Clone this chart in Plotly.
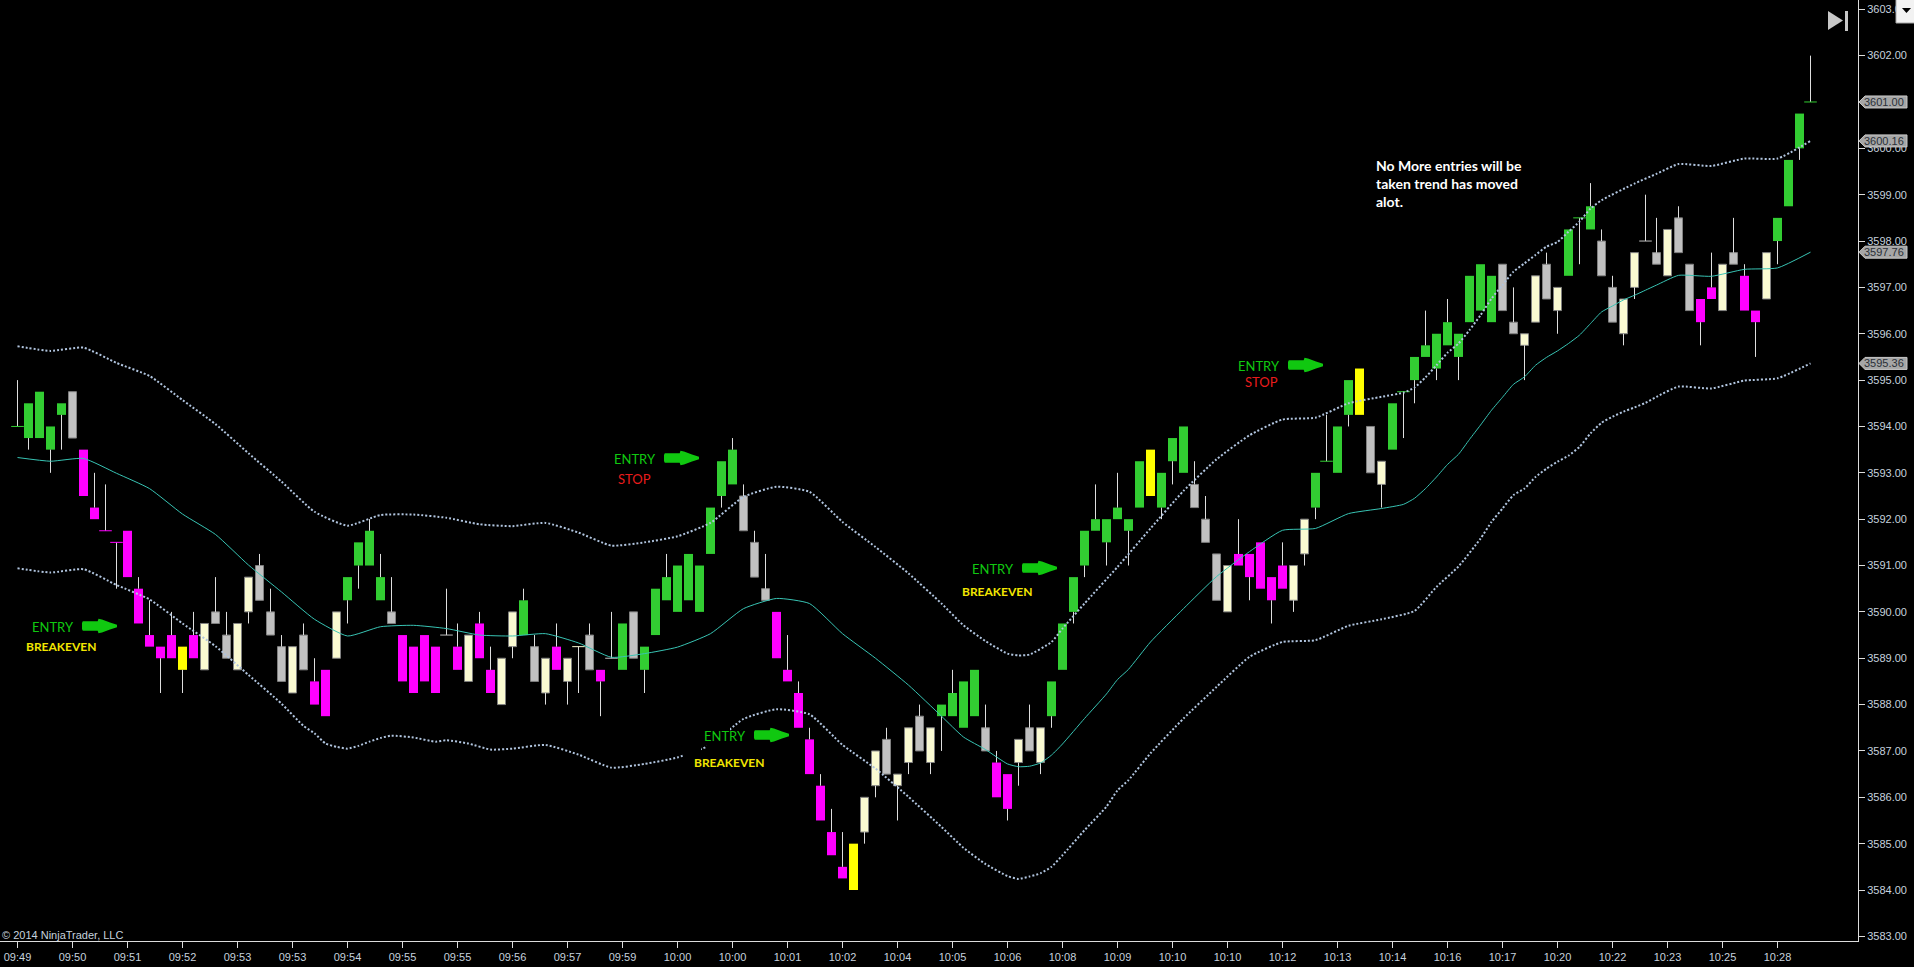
import plotly.graph_objects as go

# ES 1-range chart, bars left to right. Prices (0.25 tick).
bar_top = [
    3594, 3594.5, 3594.75, 3594, 3594.5, 3594.75, 3593.5, 3592.25, 3591.75, 3591.5,
    3591.75, 3590.5, 3589.5, 3589.25, 3589.5, 3589.25, 3589.5, 3589.75, 3590, 3589.5,
    3589.75, 3590.75, 3591, 3590, 3589.25, 3589.25, 3589.5, 3588.5, 3588.75, 3590,
    3590.75, 3591.5, 3591.75, 3590.75, 3590, 3589.5, 3589.25, 3589.5, 3589.25, 3589.5,
    3589.25, 3589.5, 3589.75, 3588.75, 3589, 3590, 3590.25, 3589.25, 3589, 3589.25,
    3589, 3589.25, 3589.5, 3588.75, 3589, 3589.75, 3590, 3589.25, 3590.5, 3590.75,
    3591, 3591.25, 3591, 3592.25, 3593.25, 3593.5, 3592.5, 3591.5, 3590.5, 3590,
    3588.75, 3588.25, 3587.25, 3586.25, 3585.25, 3584.5, 3585, 3586, 3587, 3587.25,
    3586.5, 3587.5, 3587.75, 3587.5, 3588, 3588.25, 3588.5, 3588.75, 3587.5, 3586.75,
    3586.5, 3587.25, 3587.5, 3587.5, 3588.5, 3589.75, 3590.75, 3591.75, 3592, 3592,
    3592.25, 3592, 3593.25, 3593.5, 3593, 3593.75, 3594, 3592.75, 3592, 3591.25,
    3591, 3591.25, 3591.25, 3591.5, 3590.75, 3591, 3591, 3592, 3593, 3593.25,
    3594, 3595, 3595.25, 3594, 3593.25, 3594.5, 3594.75, 3595.5, 3595.75, 3596,
    3596.25, 3596, 3597.25, 3597.5, 3597.25, 3597.5, 3596.25, 3596, 3597.25, 3597.5,
    3597, 3598.25, 3598.5, 3598.75, 3598, 3597, 3596.75, 3597.75, 3598, 3597.75,
    3598.25, 3598.5, 3597.5, 3596.75, 3597, 3597.5, 3597.75, 3597.25, 3596.5, 3597.75,
    3598.5, 3599.75, 3600.75, 3601,
]
bar_bottom = [
    3594, 3593.75, 3593.75, 3593.5, 3594.25, 3593.75, 3592.5, 3592, 3591.75, 3591.5,
    3590.75, 3589.75, 3589.25, 3589, 3589, 3588.75, 3589, 3588.75, 3589.75, 3589,
    3588.75, 3590, 3590.25, 3589.5, 3588.5, 3588.25, 3588.75, 3588, 3587.75, 3589,
    3590.25, 3591, 3591, 3590.25, 3589.75, 3588.5, 3588.25, 3588.5, 3588.25, 3589.5,
    3588.75, 3588.5, 3589, 3588.25, 3588, 3589.25, 3589.5, 3588.5, 3588.25, 3588.75,
    3588.5, 3589.25, 3588.75, 3588.5, 3589, 3588.75, 3589, 3588.75, 3589.5, 3590.25,
    3590, 3590.25, 3590, 3591.25, 3592.5, 3592.75, 3591.75, 3590.75, 3590.25, 3589,
    3588.5, 3587.5, 3586.5, 3585.5, 3584.75, 3584.25, 3584, 3585.25, 3586.25, 3586.5,
    3586.25, 3586.75, 3587, 3586.75, 3587.75, 3587.75, 3587.5, 3587.75, 3587, 3586,
    3585.75, 3586.75, 3587, 3586.75, 3587.75, 3588.75, 3590, 3591, 3591.75, 3591.5,
    3592, 3591.75, 3592.25, 3592.5, 3592.25, 3593.25, 3593, 3592.25, 3591.5, 3590.25,
    3590, 3591, 3590.75, 3590.5, 3590.25, 3590.5, 3590.25, 3591.25, 3592.25, 3593.25,
    3593, 3594.25, 3594.25, 3593, 3592.75, 3593.5, 3594.75, 3595, 3595.5, 3595.25,
    3595.75, 3595.5, 3596.25, 3596.5, 3596.25, 3596.5, 3596, 3595.75, 3596.25, 3596.75,
    3596.5, 3597.25, 3598.5, 3598.25, 3597.25, 3596.25, 3596, 3597, 3598, 3597.5,
    3597.25, 3597.75, 3596.5, 3596.25, 3596.75, 3596.5, 3597.5, 3596.5, 3596.25, 3596.75,
    3598, 3598.75, 3600, 3601,
]
wick_high = [
    3595, 3594.5, 3594.75, 3594, 3594.5, 3594.75, 3593.5, 3593, 3592.75, 3591.5,
    3591.75, 3590.75, 3590.25, 3589.25, 3590, 3589.25, 3590, 3589.75, 3590.75, 3590,
    3589.75, 3590.75, 3591.25, 3590.5, 3589.5, 3589.25, 3589.75, 3589, 3588.75, 3590,
    3590.75, 3591.5, 3592, 3591.25, 3590.75, 3589.5, 3589.25, 3589.5, 3589.25, 3590.5,
    3589.75, 3589.5, 3590, 3589.25, 3589, 3590, 3590.5, 3589.5, 3589, 3589.75,
    3589, 3589.25, 3589.75, 3588.75, 3590, 3589.75, 3590, 3589.25, 3590.5, 3591.25,
    3591, 3591.25, 3591, 3592.25, 3593.25, 3593.75, 3592.75, 3591.75, 3591.25, 3590,
    3589.5, 3588.5, 3587.5, 3586.5, 3585.75, 3585.25, 3585, 3586, 3587, 3587.5,
    3586.5, 3587.5, 3588, 3587.5, 3588, 3588.75, 3588.5, 3588.75, 3588, 3587,
    3586.5, 3587.25, 3588, 3587.5, 3588.5, 3589.75, 3590.75, 3591.75, 3592.75, 3592,
    3593, 3592, 3593.25, 3593.5, 3593, 3593.75, 3594, 3593.25, 3592.5, 3591.25,
    3591, 3592, 3591.25, 3591.5, 3590.75, 3591.5, 3591, 3592, 3593, 3594.25,
    3594, 3595, 3595.25, 3594, 3593.25, 3594.5, 3594.75, 3595.5, 3596.5, 3596,
    3596.75, 3596, 3597.25, 3597.5, 3597.25, 3597.5, 3597, 3596, 3597.25, 3597.75,
    3597, 3598.25, 3598.5, 3599.25, 3598.25, 3597.25, 3596.75, 3597.75, 3599, 3598.5,
    3598.25, 3598.75, 3597.5, 3596.75, 3597.75, 3597.5, 3598.5, 3597.5, 3596.5, 3597.75,
    3598.5, 3599.75, 3600.75, 3602,
]
wick_low = [
    3594, 3593.5, 3593.75, 3593, 3593.5, 3593.75, 3592.5, 3592, 3591.75, 3590.5,
    3590.75, 3589.75, 3589.25, 3588.25, 3589, 3588.25, 3589, 3588.75, 3589.75, 3589,
    3588.75, 3589.75, 3590.25, 3589.5, 3588.5, 3588.25, 3588.75, 3588, 3587.75, 3589,
    3589.75, 3590.5, 3591, 3590.25, 3589.75, 3588.5, 3588.25, 3588.5, 3588.25, 3589.5,
    3588.75, 3588.5, 3589, 3588.25, 3588, 3589, 3589.5, 3588.5, 3588, 3588.75,
    3588, 3588.25, 3588.75, 3587.75, 3589, 3588.75, 3589, 3588.25, 3589.5, 3590.25,
    3590, 3590.25, 3590, 3591.25, 3592.25, 3592.75, 3591.75, 3590.75, 3590.25, 3589,
    3588.5, 3587.5, 3586.5, 3585.5, 3584.75, 3584.25, 3584, 3585, 3586, 3586.5,
    3585.5, 3586.5, 3587, 3586.5, 3587, 3587.75, 3587.5, 3587.75, 3587, 3586,
    3585.5, 3586.25, 3587, 3586.5, 3587.5, 3588.75, 3589.75, 3590.75, 3591.75, 3591,
    3592, 3591, 3592.25, 3592.5, 3592, 3592.75, 3593, 3592.25, 3591.5, 3590.25,
    3590, 3591, 3590.25, 3590.5, 3589.75, 3590.5, 3590, 3591, 3592, 3593.25,
    3593, 3594, 3594.25, 3593, 3592.25, 3593.5, 3593.75, 3594.5, 3595.5, 3595,
    3595.75, 3595, 3596.25, 3596.5, 3596.25, 3596.5, 3596, 3595, 3596.25, 3596.75,
    3596, 3597.25, 3597.5, 3598.25, 3597.25, 3596.25, 3595.75, 3596.75, 3598, 3597.5,
    3597.25, 3597.75, 3596.5, 3595.75, 3596.75, 3596.5, 3597.5, 3596.5, 3595.5, 3596.75,
    3597.5, 3598.75, 3599.75, 3601,
]
bar_state = """
G G G G G S M M M M
M M M M M Y M C S S
C C S S S C S M M C
G G G G S M M M M S
M C M M C C G S C M
C C S M S G S G G G
G G G G G G S S S M
M M M M M M Y C C S
C C S C G G G G S M
M C S C G G G G G G
G G G Y G G G S S S
C M M M M M C C G G
G G Y S C G G G G G
G G G G G S S C C S
C G G G S S C C S S
C S S M M C S M M C
G G G G
""".split()

mid_idx = [0, 3, 6, 9, 12, 15, 18, 21, 24, 27, 30, 33, 36, 39, 42, 45, 48, 51, 54, 57,
           60, 63, 66, 69, 72, 75, 78, 81, 84, 86, 88, 90, 91, 92, 93, 94, 95, 97, 99,
           100, 101, 103, 106, 109, 112, 115, 118, 121, 124, 126, 127, 128, 129, 130,
           131, 132, 133, 134, 135, 136, 137, 138, 139, 140, 141, 142, 143, 144, 145,
           146, 147, 148, 149, 151, 154, 157, 160, 163]
mid_line = [3593.33, 3593.25, 3593.31, 3592.99, 3592.66, 3592.11, 3591.67, 3591.01, 3590.43,
            3589.84, 3589.48, 3589.68, 3589.71, 3589.64, 3589.5, 3589.48, 3589.53, 3589.33,
            3589.02, 3589.1, 3589.24, 3589.53, 3590.07, 3590.29, 3590.18, 3589.53, 3589.0,
            3588.42, 3587.75, 3587.3, 3587.03, 3586.72, 3586.66, 3586.67, 3586.74, 3586.91,
            3587.15, 3587.7, 3588.23, 3588.54, 3588.76, 3589.35, 3590.07, 3590.76, 3591.3,
            3591.76, 3591.8, 3592.12, 3592.23, 3592.32, 3592.45, 3592.66, 3592.91, 3593.18,
            3593.4, 3593.72, 3594.03, 3594.35, 3594.63, 3594.91, 3595.07, 3595.32, 3595.49,
            3595.63, 3595.79, 3595.97, 3596.22, 3596.47, 3596.6, 3596.73, 3596.83, 3596.94,
            3597.05, 3597.26, 3597.24, 3597.39, 3597.42, 3597.76]

upper_idx = [0, 3, 6, 9, 12, 15, 18, 21, 24, 27, 30, 33, 36, 39, 42, 45, 48, 51, 54, 57,
             60, 63, 66, 69, 72, 75, 78, 81, 84, 86, 88, 90, 91, 92, 94, 95, 97, 100, 103,
             106, 109, 112, 115, 118, 121, 124, 126, 127, 128, 129, 130, 131, 132, 133,
             134, 135, 136, 137, 138, 139, 140, 141, 142, 143, 144, 147, 149, 151, 154,
             157, 160, 163]
upper_band = [3595.73, 3595.63, 3595.7, 3595.37, 3595.09, 3594.57, 3594.05, 3593.42, 3592.81,
              3592.16, 3591.86, 3592.09, 3592.1, 3592.03, 3591.89, 3591.85, 3591.92, 3591.71,
              3591.43, 3591.5, 3591.63, 3591.92, 3592.48, 3592.7, 3592.59, 3591.94, 3591.4,
              3590.83, 3590.18, 3589.71, 3589.37, 3589.1, 3589.06, 3589.08, 3589.35, 3589.64,
              3590.18, 3590.97, 3591.8, 3592.61, 3593.29, 3593.81, 3594.15, 3594.19, 3594.5,
              3594.64, 3594.73, 3594.84, 3595.06, 3595.32, 3595.59, 3595.79, 3596.08, 3596.4,
              3596.76, 3597.05, 3597.34, 3597.52, 3597.7, 3597.88, 3597.98, 3598.2, 3598.42,
              3598.7, 3598.88, 3599.24, 3599.45, 3599.66, 3599.62, 3599.78, 3599.78, 3600.16]

lower_idx = [0, 3, 6, 9, 12, 15, 18, 21, 24, 26, 27, 28, 29, 30, 31, 32, 33, 34, 36, 38,
             39, 41, 43, 45, 48, 51, 54, 57, 60, 63, 66, 69, 72, 75, 78, 81, 84, 86, 88,
             90, 91, 92, 93, 94, 95, 97, 99, 100, 101, 103, 106, 109, 112, 115, 118, 121,
             124, 127, 129, 131, 133, 134, 135, 136, 137, 138, 139, 140, 141, 142, 143,
             144, 145, 146, 147, 148, 149, 151, 154, 157, 160, 163]
lower_band = [3590.94, 3590.85, 3590.92, 3590.58, 3590.27, 3589.75, 3589.26, 3588.64, 3588.02,
              3587.54, 3587.38, 3587.16, 3587.09, 3587.05, 3587.11, 3587.2, 3587.28, 3587.33,
              3587.29, 3587.2, 3587.23, 3587.16, 3587.03, 3587.05, 3587.13, 3586.92, 3586.64,
              3586.72, 3586.86, 3587.13, 3587.69, 3587.9, 3587.79, 3587.13, 3586.62, 3586.01,
              3585.36, 3584.91, 3584.56, 3584.3, 3584.24, 3584.29, 3584.36, 3584.5, 3584.75,
              3585.29, 3585.8, 3586.15, 3586.37, 3586.95, 3587.7, 3588.38, 3589.03, 3589.35,
              3589.39, 3589.7, 3589.84, 3590.02, 3590.54, 3590.98, 3591.58, 3591.94, 3592.23,
              3592.52, 3592.66, 3592.91, 3593.09, 3593.24, 3593.37, 3593.56, 3593.85, 3594.08,
              3594.21, 3594.32, 3594.41, 3594.51, 3594.64, 3594.86, 3594.82, 3594.99, 3595.04,
              3595.36]

time_labels = ['09:49', '09:50', '09:51', '09:52', '09:53', '09:53', '09:54', '09:55', '09:55',
               '09:56', '09:57', '09:59', '10:00', '10:00', '10:01', '10:02', '10:04', '10:05',
               '10:06', '10:08', '10:09', '10:10', '10:10', '10:12', '10:13', '10:14', '10:16',
               '10:17', '10:20', '10:22', '10:23', '10:25', '10:28']
price_ticks = list(range(3583, 3604))
tag_prices = [3601.00, 3600.16, 3597.76, 3595.36]

WIDTH, HEIGHT = 1914, 967
PLOT_W, PLOT_H = 1858, 941
BAR_STEP = 11.0
Y_TOP, Y_BOTTOM = 3603.2, 3582.9

STATE_COLORS = {'G': '#32cd32', 'M': '#ff00ff', 'Y': '#ffff00', 'S': '#c0c0c0', 'C': '#fafad2'}
OUTLINED = ('S', 'C')
TEXT_COLOR = '#c6d2de'
AXIS_COLOR = '#dcdcdc'
ENTRY_GREEN = '#10c810'


def px(x):
    return x / PLOT_W


def py(y):
    return 1 - y / PLOT_H


def price_py(price):
    return (price - Y_BOTTOM) / (Y_TOP - Y_BOTTOM)


def poly(points):
    return 'M ' + ' L '.join(f'{px(x):.5f} {py(y):.5f}' for x, y in points) + ' Z'


def arrow_shape(x0, yc):
    pts = [(0.8, -4.7), (15.7, -4.7), (16.5, -7.3), (20, -6.6), (28, -3.6), (35, -1.3),
           (35, 1.3), (28, 3.6), (20, 6.6), (16.5, 7.3), (15.7, 4.7), (0.8, 4.7), (0, 3), (0, -3)]
    return dict(type='path', xref='paper', yref='paper', layer='above', line_width=0,
                fillcolor=ENTRY_GREEN,
                path=poly([(x0 + a, yc + b) for a, b in pts]))


def label(x, y, text, color, size=13, family='Lato', bold=False):
    return dict(xref='paper', yref='paper', x=px(x), y=py(y), text=text, showarrow=False,
                xanchor='center', yanchor='middle',
                font=dict(family=family, size=size, color=color,
                          weight='bold' if bold else 'normal'))


idx = list(range(len(bar_top)))
solid = [i for i in idx if bar_top[i] != bar_bottom[i]]
doji = [i for i in idx if bar_top[i] == bar_bottom[i]]

# wicks are split so they never run through a body
wick_x, wick_y = [], []
for i in idx:
    if wick_high[i] > bar_top[i]:
        wick_x += [i, i, None]
        wick_y += [wick_high[i], bar_top[i], None]
    if wick_low[i] < bar_bottom[i]:
        wick_x += [i, i, None]
        wick_y += [bar_bottom[i], wick_low[i], None]

fig = go.Figure()

fig.add_trace(go.Bar(
    x=solid,
    y=[bar_top[i] - bar_bottom[i] for i in solid],
    base=[bar_bottom[i] for i in solid],
    width=[(8 if bar_state[i] in OUTLINED else 9) / BAR_STEP for i in solid],
    marker=dict(
        color=[STATE_COLORS[bar_state[i]] for i in solid],
        line=dict(color='#808080', width=[1 if bar_state[i] in OUTLINED else 0 for i in solid]),
    ),
    hoverinfo='skip',
))
fig.add_trace(go.Scatter(
    x=wick_x, y=wick_y, mode='lines', connectgaps=False,
    line=dict(color='#dedede', width=1), hoverinfo='skip',
))
fig.add_trace(go.Scatter(
    x=doji, y=[bar_top[i] for i in doji], mode='markers',
    marker=dict(symbol='line-ew', size=9,
                line=dict(width=1, color=[STATE_COLORS[bar_state[i]] for i in doji])),
    hoverinfo='skip',
))
fig.add_trace(go.Scatter(
    x=mid_idx, y=mid_line, mode='lines',
    line=dict(color='#38c4b4', width=1, shape='spline', smoothing=0.5), hoverinfo='skip',
))
for band_idx, band in ((upper_idx, upper_band), (lower_idx, lower_band)):
    fig.add_trace(go.Scatter(
        x=band_idx, y=band, mode='lines',
        line=dict(color='#b0c4de', width=2, dash='2px,2px', shape='spline', smoothing=0.5),
        hoverinfo='skip',
    ))

shapes = []
annotations = []

# the pasted ENTRY label hides part of the lower band
for x0, x1, y0, y1 in [(684, 701, 740, 760), (707, 730, 722, 760)]:
    shapes.append(dict(type='rect', xref='paper', yref='paper', layer='above', line_width=0,
                       fillcolor='black', x0=px(x0), x1=px(x1), y0=py(y1), y1=py(y0)))

for x0, yc in [(82, 626), (664, 458), (754, 735), (1022, 568), (1288, 365)]:
    shapes.append(arrow_shape(x0, yc))

for x, y in [(53, 627), (635, 459), (725, 736), (993, 569), (1259, 366)]:
    annotations.append(label(x, y, 'ENTRY', ENTRY_GREEN))
for x, y in [(61, 646), (729, 762), (997, 591)]:
    annotations.append(label(x, y, 'BREAKEVEN', '#f2e600', size=12, bold=True))
for x, y in [(634, 479), (1261, 382)]:
    annotations.append(label(x, y, 'STOP', '#e81c1c'))

annotations.append(dict(
    xref='paper', yref='paper', x=px(1374), y=py(155), showarrow=False,
    xanchor='left', yanchor='top', align='left',
    text='No More entries will be<br>taken trend has moved<br>alot.',
    font=dict(family='Lato', size=14, color='white', weight='bold'),
))
annotations.append(dict(
    xref='paper', yref='paper', x=px(0), y=py(935), showarrow=False,
    xanchor='left', yanchor='middle', text='© 2014 NinjaTrader, LLC',
    font=dict(family='Liberation Sans', size=11, color=TEXT_COLOR),
))

# price tags on the axis, last value of each series
for price in tag_prices:
    yc = (1 - price_py(price)) * PLOT_H
    shapes.append(dict(
        type='path', xref='paper', yref='paper', layer='above', fillcolor='#a6a6a6',
        line=dict(color='#c8c8c8', width=1),
        path=poly([(1859, yc), (1865, yc - 6), (1907, yc - 6), (1907, yc + 6), (1865, yc + 6)]),
    ))
    annotations.append(dict(
        xref='paper', yref='paper', x=px(1906), y=price_py(price), showarrow=False,
        xanchor='right', yanchor='middle', text=f'{price:.2f}',
        font=dict(family='Liberation Sans', size=11, color='#2a3038'),
    ))

# skip-to-end icon and the little dropdown button in the corner
shapes.append(dict(type='path', xref='paper', yref='paper', layer='above', fillcolor='#c8c8c8',
                   line_width=0, path=poly([(1828, 11), (1843, 20.5), (1828, 30)])))
shapes.append(dict(type='rect', xref='paper', yref='paper', layer='above', fillcolor='#c8c8c8',
                   line_width=0, x0=px(1845), x1=px(1848), y0=py(31), y1=py(11)))
shapes.append(dict(type='rect', xref='paper', yref='paper', layer='above', fillcolor='#f2f2f2',
                   line=dict(color='#a8a8a8', width=1), x0=px(1896), x1=px(1915),
                   y0=py(23), y1=py(-1)))
shapes.append(dict(type='path', xref='paper', yref='paper', layer='above', fillcolor='black',
                   line_width=0, path=poly([(1902, 8), (1911, 8), (1906.5, 13)])))

fig.update_layout(
    width=WIDTH,
    height=HEIGHT,
    margin=dict(l=0, r=WIDTH - PLOT_W, t=0, b=HEIGHT - PLOT_H, pad=0, autoexpand=False),
    plot_bgcolor='black',
    paper_bgcolor='black',
    showlegend=False,
    barmode='overlay',
    shapes=shapes,
    annotations=annotations,
    xaxis=dict(
        range=[-17.5 / BAR_STEP, (PLOT_W - 17.5) / BAR_STEP],
        tickmode='array',
        tickvals=[n * 5 for n in range(len(time_labels))],
        ticktext=time_labels,
        ticks='outside', ticklen=6, tickcolor=AXIS_COLOR, tickwidth=1,
        showgrid=False, zeroline=False,
        showline=True, linecolor=AXIS_COLOR, linewidth=1,
        tickfont=dict(family='Liberation Sans', size=11, color=TEXT_COLOR),
    ),
    yaxis=dict(
        range=[Y_BOTTOM, Y_TOP],
        side='right',
        tickmode='array',
        tickvals=price_ticks,
        ticktext=[f'{p:.2f}' for p in price_ticks],
        ticks='outside', ticklen=6, tickcolor=AXIS_COLOR, tickwidth=1,
        showgrid=False, zeroline=False,
        showline=True, linecolor=AXIS_COLOR, linewidth=1,
        tickfont=dict(family='Liberation Sans', size=11, color=TEXT_COLOR),
    ),
)

fig.write_html("out.html", config={'displayModeBar': False},
               post_script="document.body.style.margin='0';")
